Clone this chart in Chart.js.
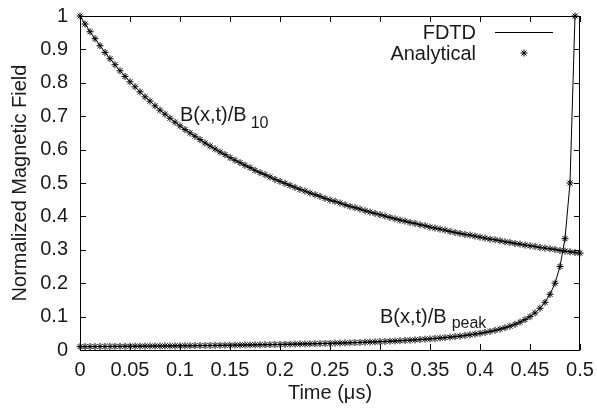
<!DOCTYPE html>
<html>
<head>
<meta charset="utf-8">
<script src="https://cdn.jsdelivr.net/npm/chart.js@4/dist/chart.umd.min.js"></script>
<style>
  body { margin: 0; background: #fff; }
  canvas { display: block; }
</style>
</head>
<body>
<canvas id="fieldChart" width="597" height="410"></canvas>
<script>
// Time samples (µs)
const times = [
    0, 0.005, 0.01, 0.015, 0.02, 0.025, 0.03, 0.035, 0.04, 0.045,
    0.05, 0.055, 0.06, 0.065, 0.07, 0.075, 0.08, 0.085, 0.09, 0.095,
    0.1, 0.105, 0.11, 0.115, 0.12, 0.125, 0.13, 0.135, 0.14, 0.145,
    0.15, 0.155, 0.16, 0.165, 0.17, 0.175, 0.18, 0.185, 0.19, 0.195,
    0.2, 0.205, 0.21, 0.215, 0.22, 0.225, 0.23, 0.235, 0.24, 0.245,
    0.25, 0.255, 0.26, 0.265, 0.27, 0.275, 0.28, 0.285, 0.29, 0.295,
    0.3, 0.305, 0.31, 0.315, 0.32, 0.325, 0.33, 0.335, 0.34, 0.345,
    0.35, 0.355, 0.36, 0.365, 0.37, 0.375, 0.38, 0.385, 0.39, 0.395,
    0.4, 0.405, 0.41, 0.415, 0.42, 0.425, 0.43, 0.435, 0.44, 0.445,
    0.45, 0.455, 0.46, 0.465, 0.47, 0.475, 0.48, 0.485, 0.49, 0.495,
    0.5
];

// B(x,t)/B10 - decaying curve
const campoB10 = [
    1.000, 0.976, 0.953, 0.932, 0.911, 0.891, 0.872, 0.854, 0.836, 0.819,
    0.803, 0.788, 0.773, 0.758, 0.745, 0.731, 0.718, 0.706, 0.694, 0.682,
    0.671, 0.660, 0.650, 0.640, 0.630, 0.620, 0.611, 0.602, 0.593, 0.585,
    0.576, 0.568, 0.561, 0.553, 0.546, 0.538, 0.531, 0.525, 0.518, 0.511,
    0.505, 0.499, 0.493, 0.487, 0.481, 0.476, 0.470, 0.465, 0.460, 0.454,
    0.449, 0.445, 0.440, 0.435, 0.430, 0.426, 0.422, 0.417, 0.413, 0.409,
    0.405, 0.401, 0.397, 0.393, 0.389, 0.386, 0.382, 0.379, 0.375, 0.372,
    0.368, 0.365, 0.362, 0.359, 0.355, 0.352, 0.349, 0.346, 0.344, 0.341,
    0.338, 0.335, 0.332, 0.330, 0.327, 0.324, 0.322, 0.319, 0.317, 0.314,
    0.312, 0.310, 0.307, 0.305, 0.303, 0.301, 0.298, 0.296, 0.294, 0.292,
    0.290
];

// B(x,t)/Bpeak - rising curve (up to t = 0.495)
const campoBpeak = [
    0.0100, 0.0101, 0.0102, 0.0103, 0.0104, 0.0105, 0.0106, 0.0108, 0.0109, 0.0110,
    0.0111, 0.0112, 0.0114, 0.0115, 0.0116, 0.0118, 0.0119, 0.0120, 0.0122, 0.0123,
    0.0125, 0.0127, 0.0128, 0.0130, 0.0132, 0.0133, 0.0135, 0.0137, 0.0139, 0.0141,
    0.0143, 0.0145, 0.0147, 0.0149, 0.0152, 0.0154, 0.0156, 0.0159, 0.0161, 0.0164,
    0.0167, 0.0169, 0.0172, 0.0175, 0.0179, 0.0182, 0.0185, 0.0189, 0.0192, 0.0196,
    0.0200, 0.0204, 0.0208, 0.0213, 0.0217, 0.0222, 0.0227, 0.0233, 0.0238, 0.0244,
    0.0250, 0.0256, 0.0263, 0.0270, 0.0278, 0.0286, 0.0294, 0.0303, 0.0313, 0.0323,
    0.0333, 0.0345, 0.0357, 0.0370, 0.0385, 0.0400, 0.0417, 0.0435, 0.0455, 0.0476,
    0.0500, 0.0526, 0.0556, 0.0588, 0.0625, 0.0667, 0.0714, 0.0769, 0.0833, 0.0909,
    0.1000, 0.1111, 0.1250, 0.1429, 0.1667, 0.2000, 0.2500, 0.3333, 0.5000, 1.0000
];

const legendLabels = ['FDTD', 'Analytical'];

const fonte = 'Liberation Sans, Arial, Helvetica, sans-serif';

const pontosB10 = campoB10.map((v, i) => ({ x: times[i], y: v }));
const pontosBpeak = campoBpeak.map((v, i) => ({ x: times[i], y: v }));

function desenhaEstrela(ctx, x, y, r) {
    ctx.beginPath();
    ctx.moveTo(x - r, y); ctx.lineTo(x + r, y);
    ctx.moveTo(x, y - r); ctx.lineTo(x, y + r);
    const d = r * 0.7071;
    ctx.moveTo(x - d, y - d); ctx.lineTo(x + d, y + d);
    ctx.moveTo(x - d, y + d); ctx.lineTo(x + d, y - d);
    ctx.stroke();
}

// tira zeros à direita: 0.10 -> 0.1, 1.0 -> 1
const formataTick = v => String(Number(v.toFixed(2)));

// moldura, ticks para dentro, legenda e rótulos
const molduraPlugin = {
    id: 'moldura',
    afterDraw(chart) {
        const { ctx, chartArea: a, scales } = chart;
        ctx.save();
        ctx.strokeStyle = '#000';
        ctx.lineWidth = 1;
        ctx.strokeRect(a.left + 0.5, a.top + 0.5, a.right - a.left - 1, a.bottom - a.top);

        const tl = 6;
        ctx.beginPath();
        scales.x.ticks.forEach(t => {
            const px = Math.round(scales.x.getPixelForValue(t.value)) + 0.5;
            ctx.moveTo(px, a.bottom); ctx.lineTo(px, a.bottom - tl);
            ctx.moveTo(px, a.top); ctx.lineTo(px, a.top + tl);
        });
        scales.y.ticks.forEach(t => {
            const py = Math.round(scales.y.getPixelForValue(t.value)) + 0.5;
            ctx.moveTo(a.left, py); ctx.lineTo(a.left + tl, py);
            ctx.moveTo(a.right, py); ctx.lineTo(a.right - tl, py);
        });
        ctx.stroke();

        // legenda
        ctx.fillStyle = '#1a1a1a';
        ctx.font = '20px ' + fonte;
        ctx.textAlign = 'right';
        ctx.textBaseline = 'alphabetic';
        ctx.fillText(legendLabels[0], 476, 39);
        ctx.fillText(legendLabels[1], 476, 60);
        ctx.beginPath();
        ctx.moveTo(495, 32.5); ctx.lineTo(553, 32.5);
        ctx.stroke();
        desenhaEstrela(ctx, 524, 53, 3.5);

        // rótulos das curvas
        ctx.textAlign = 'left';
        const x1 = scales.x.getPixelForValue(0.1), y1 = scales.y.getPixelForValue(0.687);
        ctx.font = '20px ' + fonte;
        ctx.fillText('B(x,t)/B', x1, y1);
        let w = ctx.measureText('B(x,t)/B').width;
        ctx.font = '16px ' + fonte;
        ctx.fillText('10', x1 + w + 4, y1 + 7);

        const x2 = scales.x.getPixelForValue(0.3), y2 = scales.y.getPixelForValue(0.081);
        ctx.font = '20px ' + fonte;
        ctx.fillText('B(x,t)/B', x2, y2);
        w = ctx.measureText('B(x,t)/B').width;
        ctx.font = '16px ' + fonte;
        ctx.fillText('peak', x2 + w + 5, y2 + 5);
        ctx.restore();
    }
};

const ctxCampo = document.getElementById('fieldChart').getContext('2d');
const fieldChart = new Chart(ctxCampo, {
    type: 'line',
    data: {
        datasets: [
            {
                label: 'FDTD',
                data: pontosB10,
                borderColor: '#000',
                borderWidth: 1,
                pointRadius: 0,
                fill: false,
                tension: 0
            },
            {
                label: 'FDTD',
                data: pontosBpeak,
                borderColor: '#000',
                borderWidth: 1,
                pointRadius: 0,
                fill: false,
                tension: 0
            },
            {
                label: 'Analytical',
                data: pontosB10,
                showLine: false,
                pointStyle: 'star',
                pointRadius: 3.5,
                pointBorderWidth: 1,
                pointBorderColor: '#000',
                pointBackgroundColor: '#000',
                clip: 6
            },
            {
                label: 'Analytical',
                data: pontosBpeak,
                showLine: false,
                pointStyle: 'star',
                pointRadius: 3.5,
                pointBorderWidth: 1,
                pointBorderColor: '#000',
                pointBackgroundColor: '#000',
                clip: 6
            }
        ]
    },
    options: {
        responsive: false,
        animation: false,
        layout: { padding: { top: 16, right: 17, left: 0, bottom: 0 } },
        plugins: {
            legend: { display: false },
            tooltip: { enabled: false }
        },
        scales: {
            x: {
                type: 'linear',
                min: 0,
                max: 0.5,
                ticks: {
                    stepSize: 0.05,
                    padding: 8,
                    color: '#1a1a1a',
                    font: { family: fonte, size: 20 },
                    maxRotation: 0,
                    autoSkip: false,
                    callback: formataTick
                },
                grid: { display: false, drawTicks: false },
                border: { display: false },
                title: {
                    display: true,
                    text: 'Time (\u03bcs)',
                    color: '#1a1a1a',
                    font: { family: fonte, size: 20 },
                    padding: { top: 0, bottom: 5 }
                },
                afterFit(scale) {
                    scale.height = 60;
                    scale.paddingLeft = 0;
                    scale.paddingRight = 0;
                }
            },
            y: {
                min: 0,
                max: 1,
                ticks: {
                    stepSize: 0.1,
                    padding: 12,
                    color: '#1a1a1a',
                    font: { family: fonte, size: 20 },
                    callback: formataTick
                },
                grid: { display: false, drawTicks: false },
                border: { display: false },
                title: {
                    display: true,
                    text: 'Normalized Magnetic Field',
                    color: '#1a1a1a',
                    font: { family: fonte, size: 20 },
                    padding: { top: 8, bottom: 0 }
                },
                afterFit(scale) {
                    scale.width = 80;
                    scale.paddingTop = 0;
                    scale.paddingBottom = 0;
                }
            }
        }
    },
    plugins: [molduraPlugin]
});
</script>
</body>
</html>
